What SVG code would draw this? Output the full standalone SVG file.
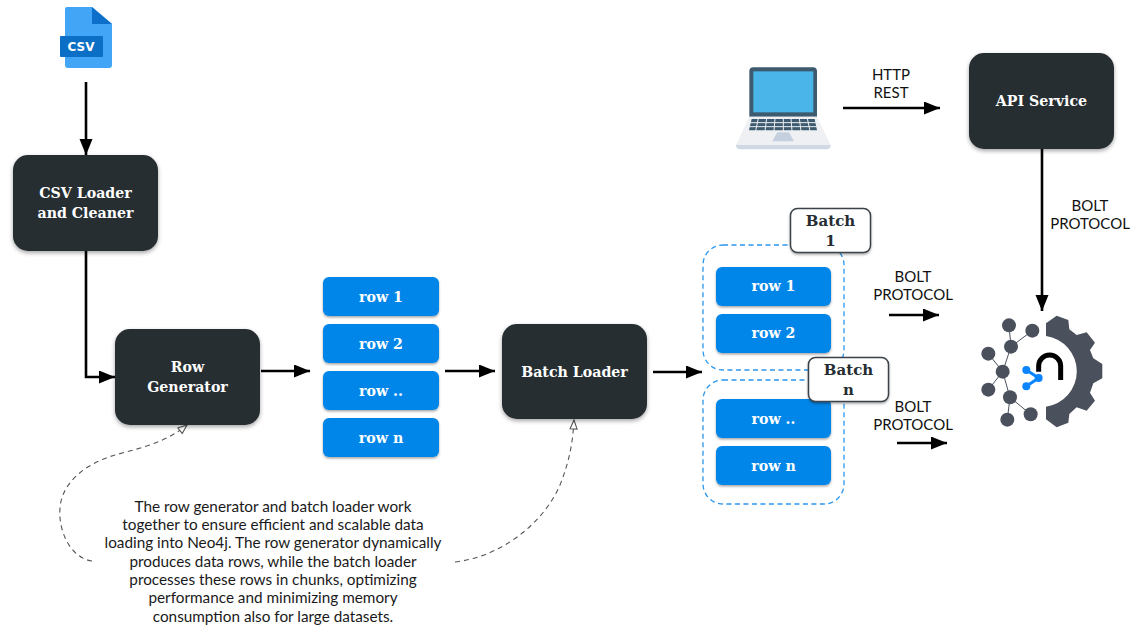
<svg xmlns="http://www.w3.org/2000/svg" width="1143" height="638" viewBox="0 0 1143 638">
<style>
.dark{fill:#252d32;filter:url(#sh)}
.row{fill:#0586e8;filter:url(#shs)}
.tw{font-family:"DejaVu Serif","Liberation Serif",serif;font-weight:700;fill:#fff;text-anchor:middle;font-size:14.2px}
.tb{font-family:"DejaVu Serif","Liberation Serif",serif;font-weight:700;fill:#252d32;text-anchor:middle;font-size:15px}
.lab{font-family:Lato,"Open Sans",sans-serif;font-size:15px;fill:#111;text-anchor:middle}
.note{font-family:Lato,"Open Sans",sans-serif;font-size:15.3px;fill:#1a1a1a;text-anchor:middle}
.con{fill:none;stroke:#000;stroke-width:2.6;marker-end:url(#ah)}
.dash{fill:none;stroke:#555;stroke-width:1.1;stroke-dasharray:5 4;marker-end:url(#oh)}
.group{fill:none;stroke:#2a97ee;stroke-width:1.3;stroke-dasharray:5 3.5}
.bl{fill:#fff;stroke:#3a4248;stroke-width:1.5;filter:url(#shs)}
.gn{fill:#4a505c}
.gl{stroke:#4a505c;stroke-width:3;fill:none}
.bn{fill:#0a84ff}
</style>
<defs>
<filter id="sh" x="-10%" y="-10%" width="120%" height="125%"><feDropShadow dx="0" dy="2" stdDeviation="2" flood-color="#000" flood-opacity=".35"/></filter>
<filter id="shs" x="-10%" y="-10%" width="120%" height="125%"><feDropShadow dx="0" dy="1.5" stdDeviation="1.3" flood-color="#000" flood-opacity=".35"/></filter>
<marker id="ah" markerUnits="userSpaceOnUse" markerWidth="18" markerHeight="14" refX="16" refY="6.5" orient="auto"><path d="M0 0L16 6.5L0 13z" fill="#000"/></marker>
<marker id="oh" markerUnits="userSpaceOnUse" markerWidth="12" markerHeight="10" refX="10" refY="4.5" orient="auto"><path d="M1 1L10 4.5L1 8z" fill="#fff" stroke="#555" stroke-width="1.1"/></marker>
</defs>

<g id="connectors">
<path class="con" d="M86 82V155"/>
<path class="con" d="M86 251V377H115"/>
<path class="con" d="M261 371H310"/>
<path class="con" d="M445 371H495"/>
<path class="con" d="M653 372H702"/>
<path class="con" d="M843 108H940"/>
<path class="con" d="M889 315H939"/>
<path class="con" d="M897 443H947"/>
<path class="con" d="M1042 149V311"/>
<path class="dash" d="M92 561C70 558 58 530 60 508C62 480 90 462 115 455C140 448 165 443 187 425"/>
<path class="dash" d="M455 562C505 556 545 520 560 485C570 460 573 440 574 420"/>
</g>

<g id="csv-file">
<path d="M65 9Q65 7 67 7H92L112 24V65Q112 68 109 68H68Q65 68 65 65z" fill="#42a5f5"/>
<path d="M92 7L112 24H92z" fill="#0d6fc9"/>
<rect x="60" y="36" width="43" height="21" rx="1" fill="#0b6fc6"/>
<text x="81" y="51" font-family="DejaVu Sans,sans-serif" font-weight="700" font-size="12" fill="#fff" text-anchor="middle">CSV</text>
</g>

<g id="csv-loader"><rect class="dark" x="13" y="155" width="145" height="96" rx="15"/>
<text class="tw" x="85.500" y="198">CSV Loader</text><text class="tw" x="85.500" y="218">and Cleaner</text></g>

<g id="row-generator"><rect class="dark" x="115" y="329" width="145" height="96" rx="15"/>
<text class="tw" x="187.500" y="372">Row</text><text class="tw" x="187.500" y="392">Generator</text></g>

<g id="rows">
<rect class="row" x="323" y="277" width="116" height="39" rx="6"/><text class="tw" x="381" y="302">row 1</text>
<rect class="row" x="323" y="324" width="116" height="39" rx="6"/><text class="tw" x="381" y="349">row 2</text>
<rect class="row" x="323" y="371" width="116" height="39" rx="6"/><text class="tw" x="381" y="396">row ..</text>
<rect class="row" x="323" y="418" width="116" height="39" rx="6"/><text class="tw" x="381" y="443">row n</text>
</g>

<g id="batch-loader"><rect class="dark" x="502" y="324" width="145" height="95" rx="15"/>
<text class="tw" x="574.500" y="377">Batch Loader</text></g>

<g id="batch-1">
<rect class="group" x="703" y="245" width="141" height="125" rx="20"/>
<rect class="row" x="716" y="267" width="115" height="39" rx="6"/><text class="tw" x="773.500" y="291">row 1</text>
<rect class="row" x="716" y="314" width="115" height="39" rx="6"/><text class="tw" x="773.500" y="338">row 2</text>
<rect class="bl" x="790.500" y="208.500" width="80" height="44" rx="7"/>
<text class="tb" x="830.500" y="226">Batch</text><text class="tb" x="830.500" y="246">1</text>
</g>

<g id="batch-n">
<rect class="group" x="703" y="380" width="141" height="124" rx="20"/>
<rect class="row" x="716" y="399" width="115" height="39" rx="6"/><text class="tw" x="773.500" y="424">row ..</text>
<rect class="row" x="716" y="446" width="115" height="39" rx="6"/><text class="tw" x="773.500" y="471">row n</text>
<rect class="bl" x="808.500" y="357.500" width="80" height="44" rx="7"/>
<text class="tb" x="848.500" y="375">Batch</text><text class="tb" x="848.500" y="395">n</text>
</g>

<g id="laptop" transform="translate(720 50) scale(.3333)">
<path d="M88 64Q88 52 100 52H279Q291 52 291 64V200H88z" fill="#3d5a6e"/>
<rect x="100" y="64" width="180" height="123" fill="#4ab5e8"/>
<path d="M88 200H291L332 285H48z" fill="#eef0f3"/>
<path d="M48 285H332Q332 298 318 298H62Q48 298 48 285z" fill="#cfd8e3"/>
<path d="M95 207H284L291 241H87z" fill="#3d5a6e"/>
<path d="M86 218H292M86 230H292M115 205L107 243M140 205L135 243M165 205L162 243M190 205V243M213 205L216 243M238 205L243 243M262 205L270 243" stroke="#eef0f3" stroke-width="3" fill="none"/>
<path d="M172 247H207L222 274H157z" fill="#c5d0de"/>
</g>

<g id="api-service"><rect class="dark" x="969" y="53" width="145" height="96" rx="15"/>
<text class="tw" x="1041.500" y="106">API Service</text></g>

<g id="neo4j" transform="translate(960 290) scale(.3333)">
<path class="gn" d="M258 138V100L290 77L325 90L328 118L350 135L380 127L405 158L390 180L400 205L427 222V265L400 280L390 308L405 332L380 362L350 352L328 372L325 398L290 412L258 388V350A107 107 0 0 0 258 138z"/>
<path class="gl" d="M147 106L153 170L217 122M153 170L128 245L85 191M128 245L85 299M128 245L150 322L212 373M150 322L142 389"/>
<circle class="gn" cx="147" cy="106" r="21"/><circle class="gn" cx="217" cy="122" r="21"/><circle class="gn" cx="153" cy="170" r="21"/><circle class="gn" cx="85" cy="191" r="21"/><circle class="gn" cx="128" cy="245" r="21"/><circle class="gn" cx="85" cy="299" r="21"/><circle class="gn" cx="150" cy="322" r="21"/><circle class="gn" cx="212" cy="373" r="21"/><circle class="gn" cx="142" cy="389" r="21"/>
<path d="M236 245V228A33 33 0 0 1 302 228V270" fill="none" stroke="#000" stroke-width="15"/>
<path d="M199 240L236 264L199 289" fill="none" stroke="#0a84ff" stroke-width="9"/>
<circle class="bn" cx="199" cy="240" r="12"/><circle class="bn" cx="236" cy="264" r="12"/><circle class="bn" cx="199" cy="289" r="12"/>
</g>

<g id="labels">
<text class="lab" x="891" y="80">HTTP</text><text class="lab" x="891" y="98">REST</text>
<text class="lab" x="1090" y="211">BOLT</text><text class="lab" x="1090" y="229">PROTOCOL</text>
<text class="lab" x="913" y="282">BOLT</text><text class="lab" x="913" y="300">PROTOCOL</text>
<text class="lab" x="913" y="412">BOLT</text><text class="lab" x="913" y="430">PROTOCOL</text>
</g>

<g id="note">
<text class="note" x="273" y="512">The row generator and batch loader work</text>
<text class="note" x="273" y="530">together to ensure efficient and scalable data</text>
<text class="note" x="273" y="548">loading into Neo4j. The row generator dynamically</text>
<text class="note" x="273" y="567">produces data rows, while the batch loader</text>
<text class="note" x="273" y="585">processes these rows in chunks, optimizing</text>
<text class="note" x="273" y="603">performance and minimizing memory</text>
<text class="note" x="273" y="622">consumption also for large datasets.</text>
</g>
</svg>
